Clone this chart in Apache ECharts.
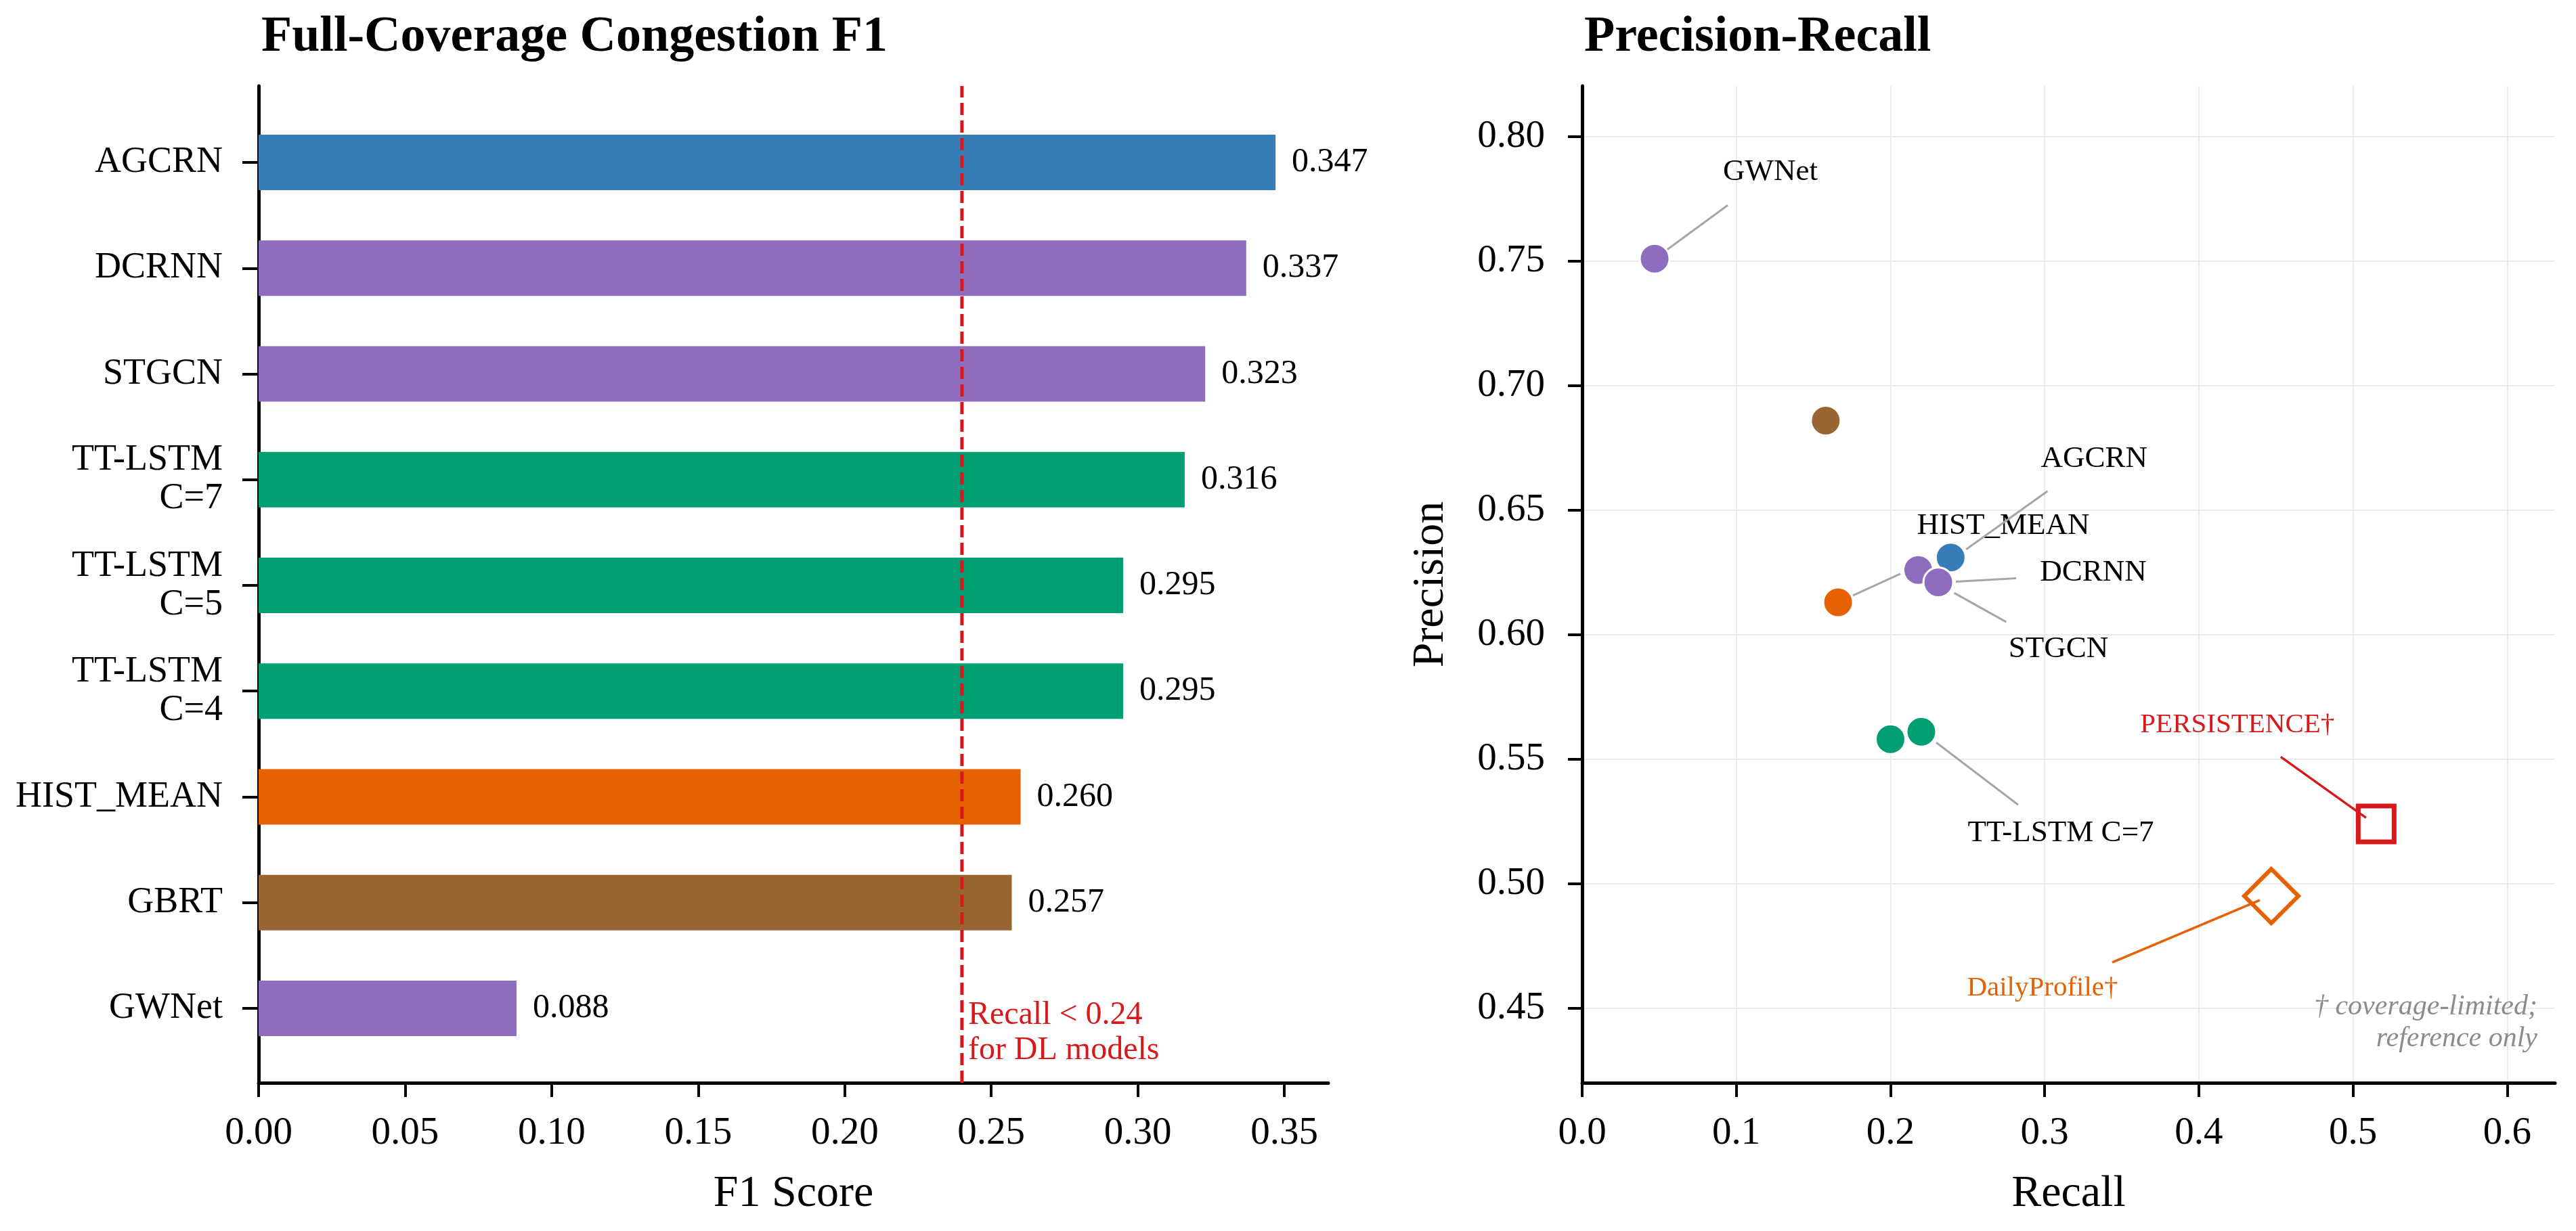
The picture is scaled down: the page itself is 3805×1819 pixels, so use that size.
<!DOCTYPE html>
<html>
<head>
<meta charset="UTF-8">
<title>Congestion F1 / Precision-Recall</title>
<script src="https://cdn.jsdelivr.net/npm/echarts@6/dist/echarts.min.js"></script>
<style>
  html, body { margin: 0; padding: 0; background: #fff; }
  #main { width: 3805px; height: 1819px; }
</style>
</head>
<body>
<div id="main"></div>
<script>
// --- left panel: F1 per model (top to bottom) ---
const models = ['AGCRN', 'DCRNN', 'STGCN', 'TT-LSTM\nC=7', 'TT-LSTM\nC=5', 'TT-LSTM\nC=4', 'HIST_MEAN', 'GBRT', 'GWNet'];
const f1Scores = [0.347, 0.337, 0.323, 0.316, 0.295, 0.295, 0.260, 0.257, 0.088];
const f1Ticks = [0, 0.05, 0.10, 0.15, 0.20, 0.25, 0.30, 0.35];
const dlRecallCut = 0.24;

// --- right panel: precision vs recall (draw order) ---
const prModels = ['GWNet', 'GBRT', 'HIST_MEAN', 'AGCRN', 'STGCN', 'DCRNN', 'TT-LSTM C=4', 'TT-LSTM C=5', 'TT-LSTM C=7', 'PERSISTENCE†', 'DailyProfile†'];
const recall = [0.047, 0.158, 0.166, 0.239, 0.218, 0.231, 0.200, 0.200, 0.220, 0.515, 0.447];
const precision = [0.751, 0.686, 0.613, 0.631, 0.626, 0.621, 0.558, 0.558, 0.561, 0.524, 0.495];
const recallTicks = [0, 0.1, 0.2, 0.3, 0.4, 0.5, 0.6];
const precisionTicks = [0.45, 0.50, 0.55, 0.60, 0.65, 0.70, 0.75, 0.80];

// colours per model family
const familyColor = {
    'AGCRN': '#377eb8', 'DCRNN': '#8e6dbf', 'STGCN': '#8e6dbf', 'GWNet': '#8e6dbf',
    'TT-LSTM': '#009e73', 'HIST_MEAN': '#e66101', 'GBRT': '#996633',
    'PERSISTENCE': '#d7191c', 'DailyProfile': '#e66101'
};
function colorOf(name) {
    for (const k in familyColor) {
        if (name.indexOf(k) === 0) return familyColor[k];
    }
    return '#333';
}

// annotation text offset from its point, and leader segment (pixels, relative to the point)
const labelOffset = {
    'GWNet': [171, -128],
    'AGCRN': [212, -146],
    'HIST_MEAN': [244, -113],
    'DCRNN': [229, -14],
    'STGCN': [207, 117],
    'TT-LSTM C=7': [206, 150],
    'PERSISTENCE†': [-205, -146],
    'DailyProfile†': [-338, 136]
};
const leaderSeg = {
    'GWNet': [[108, -79], [18, -13]],
    'AGCRN': [[143, -98], [23, -12]],
    'HIST_MEAN': [[92, -42], [22, -10]],
    'DCRNN': [[115, -6], [26, -1]],
    'STGCN': [[130, 77], [53, 34]],
    'TT-LSTM C=7': [[143, 108], [22, 16]],
    'PERSISTENCE†': [[-141, -99], [-15, -9]],
    'DailyProfile†': [[-235, 98], [-17, 6]]
};

const FONT = 'Liberation Serif';
const RED = '#d7191c';

const chart = echarts.init(document.getElementById('main'), null, { renderer: 'canvas' });

const prItems = prModels.map(function (name, i) {
    const c = colorOf(name);
    const item = {
        name: name,
        value: [recall[i], precision[i]],
        symbol: 'circle',
        symbolSize: 44,
        itemStyle: { color: c, opacity: 1, borderColor: '#fff', borderWidth: 3 }
    };
    if (name.indexOf('PERSISTENCE') === 0) {
        item.symbol = 'rect';
        item.symbolSize = 53;
        item.itemStyle = { color: 'rgba(0,0,0,0)', opacity: 1, borderColor: c, borderWidth: 7 };
    }
    if (name.indexOf('DailyProfile') === 0) {
        item.symbol = 'diamond';
        item.symbolSize = 80;
        item.itemStyle = { color: 'rgba(0,0,0,0)', opacity: 1, borderColor: c, borderWidth: 6 };
    }
    return item;
});

// labelled points: [recall, precision, index into prModels]
const annotated = [];
prModels.forEach(function (name, i) {
    if (labelOffset[name]) annotated.push([recall[i], precision[i], i]);
});

function renderAnnotation(params, api) {
    const p = api.coord([api.value(0), api.value(1)]);
    const name = prModels[api.value(2)];
    const coloured = name.slice(-1) === '†';
    const c = coloured ? colorOf(name) : '#000';
    const off = labelOffset[name];
    const seg = leaderSeg[name];
    return {
        type: 'group',
        children: [
            {
                type: 'line',
                shape: { x1: p[0] + seg[0][0], y1: p[1] + seg[0][1], x2: p[0] + seg[1][0], y2: p[1] + seg[1][1] },
                style: { stroke: coloured ? c : '#a6a6a6', lineWidth: coloured ? 3.5 : 3 }
            },
            {
                type: 'text', x: p[0] + off[0], y: p[1] + off[1],
                style: {
                    text: name, fill: c, align: 'center', verticalAlign: 'middle',
                    fontFamily: FONT, fontSize: coloured ? 41 : 45
                }
            }
        ]
    };
}

const axisBlack = { show: true, lineStyle: { color: '#000', width: 5 } };
const tickBlack = { show: true, length: 21, lineStyle: { color: '#000', width: 4 } };

const option = {
    animation: false,
    backgroundColor: '#fff',
    textStyle: { fontFamily: FONT },
    title: [
        { text: 'Full-Coverage Congestion F1', left: 381, top: 14,
          textStyle: { fontFamily: FONT, fontSize: 74, fontWeight: 'bold', color: '#000' } },
        { text: 'Precision-Recall', left: 2335, top: 14,
          textStyle: { fontFamily: FONT, fontSize: 74, fontWeight: 'bold', color: '#000' } }
    ],
    grid: [
        { left: 382, top: 127, width: 1580, height: 1473 },       // left frame
        { left: 382, top: 161.9, width: 1580, height: 1406.2 },   // bars
        { left: 2337, top: 127, width: 1437, height: 1473 }       // scatter
    ],
    xAxis: [
        {
            gridIndex: 0, type: 'value', min: 0, max: 0.365,
            axisLine: axisBlack, axisTick: Object.assign({ customValues: f1Ticks }, tickBlack),
            axisLabel: { customValues: f1Ticks, fontSize: 57, color: '#000', margin: 47,
                         formatter: function (v) { return v.toFixed(2); } },
            splitLine: { show: false },
            name: 'F1 Score', nameLocation: 'middle', nameGap: 132,
            nameTextStyle: { fontSize: 66, color: '#000', fontFamily: FONT }
        },
        { gridIndex: 1, type: 'value', min: 0, max: 0.365, show: false },
        {
            gridIndex: 2, type: 'value', min: 0, max: 0.631,
            axisLine: axisBlack, axisTick: Object.assign({ customValues: recallTicks }, tickBlack),
            axisLabel: { customValues: recallTicks, fontSize: 57, color: '#000', margin: 47,
                         formatter: function (v) { return v.toFixed(1); } },
            splitLine: { show: true, lineStyle: { color: '#ececec', width: 2 } },
            name: 'Recall', nameLocation: 'middle', nameGap: 132,
            nameTextStyle: { fontSize: 66, color: '#000', fontFamily: FONT }
        }
    ],
    yAxis: [
        {
            gridIndex: 0, type: 'value', min: 0, max: 1,
            axisLine: axisBlack, axisTick: { show: false }, axisLabel: { show: false }, splitLine: { show: false }
        },
        {
            gridIndex: 1, type: 'category', data: models, inverse: true,
            axisLine: { show: false },
            axisTick: { show: true, alignWithLabel: true, length: 24, lineStyle: { color: '#000', width: 4 } },
            axisLabel: { fontSize: 54, lineHeight: 57, color: '#000', margin: 53 }
        },
        {
            gridIndex: 2, type: 'value', min: 0.42, max: 0.8204,
            axisLine: axisBlack, axisTick: Object.assign({ customValues: precisionTicks }, tickBlack),
            axisLabel: { customValues: precisionTicks, fontSize: 57, color: '#000', margin: 55,
                         formatter: function (v) { return v.toFixed(2); } },
            splitLine: { show: true, lineStyle: { color: '#ececec', width: 2 } },
            name: 'Precision', nameLocation: 'middle', nameGap: 190,
            nameTextStyle: { fontSize: 66, color: '#000', fontFamily: FONT }
        }
    ],
    series: [
        {
            type: 'bar', xAxisIndex: 1, yAxisIndex: 1, barWidth: 82,
            data: f1Scores.map(function (v, i) {
                return { value: v, itemStyle: { color: colorOf(models[i]) } };
            }),
            label: {
                show: true, position: 'right', distance: 24, fontSize: 50, color: '#000', fontFamily: FONT,
                formatter: function (p) { return p.value.toFixed(3); }
            }
        },
        {
            // recall cut-off for DL models, spans the whole frame
            type: 'line', xAxisIndex: 0, yAxisIndex: 0, symbol: 'none', z: 5,
            data: [[dlRecallCut, 0], [dlRecallCut, 1]],
            lineStyle: { color: RED, width: 5, type: [18, 8] }
        },
        {
            // leader lines and names, under the markers
            type: 'custom', xAxisIndex: 2, yAxisIndex: 2, z: 3, silent: true,
            encode: { x: 0, y: 1 },
            data: annotated,
            renderItem: renderAnnotation
        },
        {
            type: 'scatter', xAxisIndex: 2, yAxisIndex: 2, z: 4,
            data: prItems,
            label: { show: false }
        }
    ]
};

chart.setOption(option);

// text notes placed next to the data they describe
const cutX = chart.convertToPixel({ xAxisIndex: 0 }, dlRecallCut);
chart.setOption({
    graphic: [
        {
            type: 'text', x: cutX + 9, y: 1474,
            style: { text: 'Recall < 0.24\nfor DL models', fill: RED, font: '48px "Liberation Serif"', lineHeight: 52 }
        },
        {
            type: 'text', x: 3748, y: 1464,
            style: { text: '† coverage-limited;\nreference only', fill: '#8c8c8c', align: 'right', verticalAlign: 'top',
                     font: 'italic 42px "Liberation Serif"', lineHeight: 47 }
        }
    ]
});
</script>
</body>
</html>
